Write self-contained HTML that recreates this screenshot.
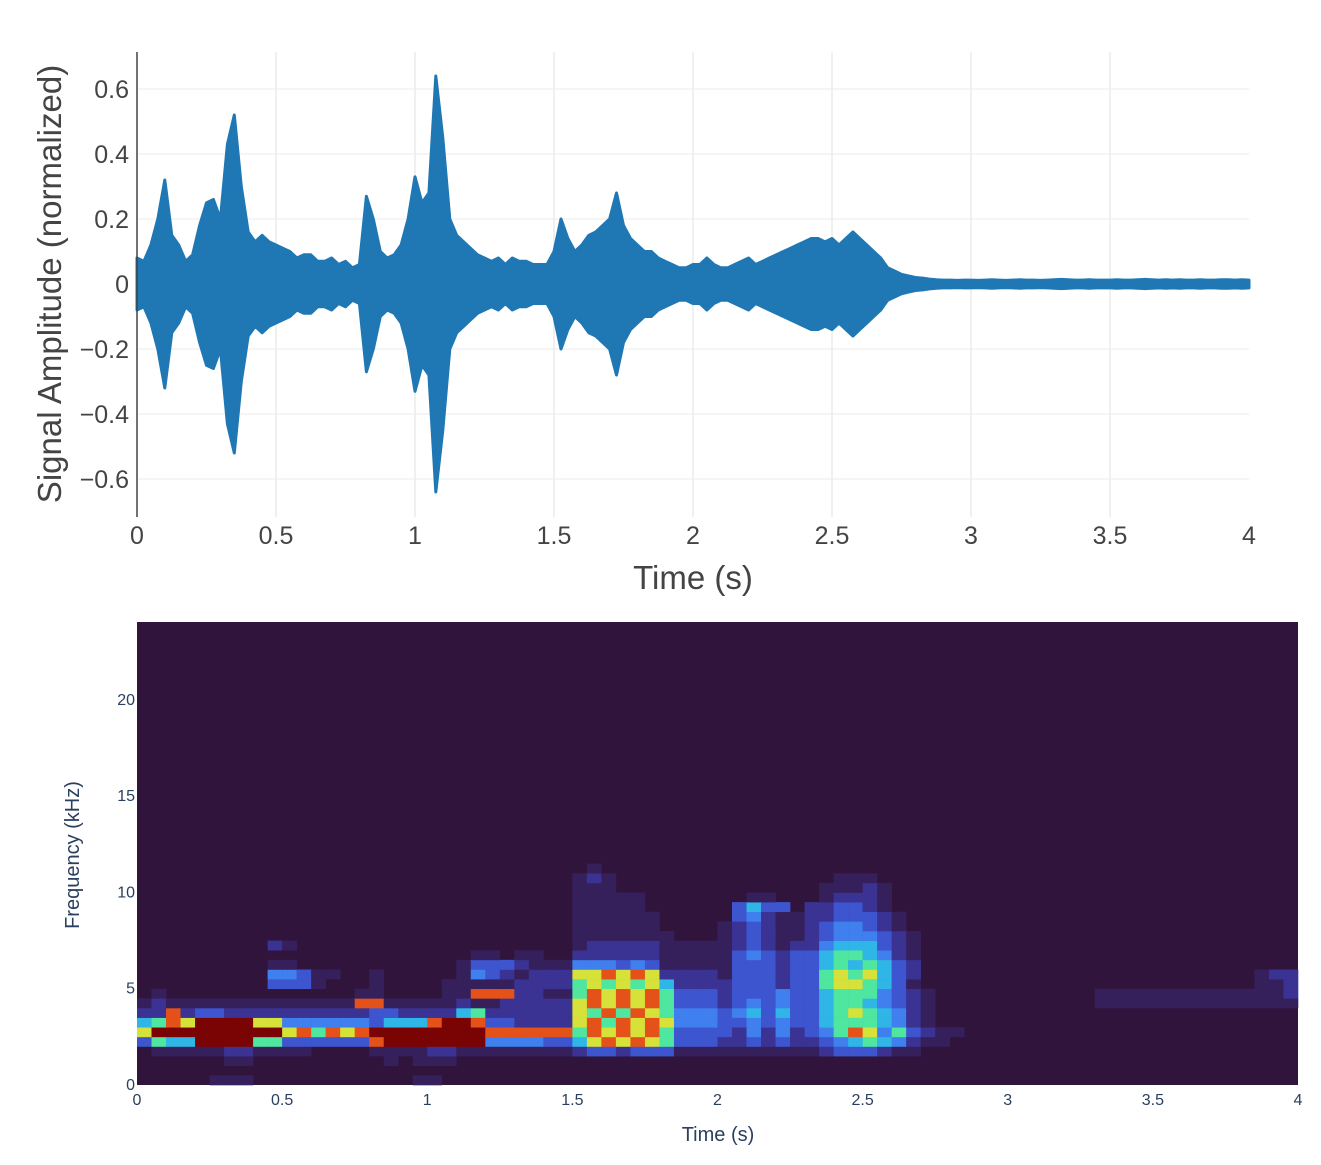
<!DOCTYPE html>
<html><head><meta charset="utf-8">
<style>
html,body{margin:0;padding:0;background:#fff;}
svg{display:block;font-family:"Liberation Sans",Arial,sans-serif;}
</style></head>
<body>
<svg id="root" width="1321" height="1165" viewBox="0 0 1321 1165">
  <g id="wave"></g>
  <g id="spec"></g>
</svg>
<script>
// ---------- waveform data ----------
const waveStep = 0.025; // seconds between envelope samples
const waveEnvelope = [0.08,0.07,0.12,0.2,0.32,0.15,0.12,0.07,0.09,0.18,0.25,0.26,0.2,0.43,0.52,0.3,0.16,0.13,0.15,0.13,
0.12,0.11,0.1,0.08,0.09,0.09,0.07,0.07,0.08,0.06,0.07,0.05,0.06,0.27,0.2,0.1,0.08,0.09,0.12,0.2,
0.33,0.25,0.28,0.64,0.45,0.2,0.15,0.13,0.11,0.09,0.08,0.07,0.08,0.06,0.08,0.07,0.07,0.06,0.06,0.06,
0.1,0.2,0.14,0.1,0.12,0.15,0.16,0.18,0.2,0.28,0.18,0.14,0.12,0.1,0.1,0.08,0.07,0.06,0.05,0.05,
0.06,0.06,0.08,0.06,0.05,0.05,0.06,0.07,0.08,0.06,0.07,0.08,0.09,0.1,0.11,0.12,0.13,0.14,0.14,0.13,
0.14,0.12,0.14,0.16,0.14,0.12,0.1,0.08,0.05,0.04,0.03,0.025,0.02,0.018,0.015,0.013,0.012,0.012,0.011,0.012,
0.012,0.011,0.012,0.013,0.012,0.011,0.012,0.013,0.012,0.012,0.011,0.012,0.013,0.014,0.013,0.012,0.012,0.013,0.012,0.012,
0.012,0.013,0.012,0.012,0.013,0.014,0.013,0.012,0.013,0.012,0.013,0.012,0.012,0.013,0.012,0.012,0.013,0.013,0.012,0.013,0.012];
const waveXTicks = [0,0.5,1,1.5,2,2.5,3,3.5,4];
const waveXTickLabels = ["0","0.5","1","1.5","2","2.5","3","3.5","4"];
const waveYTicks = [-0.6,-0.4,-0.2,0,0.2,0.4,0.6];
const waveYTickLabels = ["\u22120.6","\u22120.4","\u22120.2","0","0.2","0.4","0.6"];

// ---------- spectrogram data ----------
const specTimeStep = 0.05;   // 80 time bins
const specFreqStep = 0.5;    // kHz per row
const specYTicks = [0,5,10,15,20];
const specXTicks = [0,0.5,1,1.5,2,2.5,3,3.5,4];
const specXTickLabels = ["0","0.5","1","1.5","2","2.5","3","3.5","4"];
const Z = "0000000000";
// rows from 0 kHz upward, intensity 0-9
const specRows = [
 ["0000011100","0000000001","1000000000",Z,Z,Z,Z,Z],
 [Z,Z,Z,Z,Z,Z,Z,Z],
 ["0000001100","0000000101","1100000000",Z,Z,Z,Z,Z],
 ["0111112211","1100001111","2211111111","2332333111","1111111233","3211000000",Z,Z],
 ["3655999966","3333338999","9999444433","5787876333","2232322345","6542110000",Z,Z],
 ["7999999999","7868789999","9999888888","6878786333","3242423468","7463211000",Z,Z],
 ["5687999977","4444443555","8998332222","7868787444","3343433566","6542100000",Z,Z],
 ["2282332222","2222223322","2256222222","7686876444","3453533567","6542100000",Z,Z],
 ["1211111111","1111188111","1121122222","7878786333","2343433566","5432100000","0000001111","1111111111"],
 ["0100000000","0000011000","0118882211","6878786333","2333433566","6432100000","0000001111","1111111112"],
 ["0000000003","3310001000","0111112222","6767675222","2333233677","6531000000",Z,"0000000112"],
 ["0000000004","4311001000","0014321222","7787872222","1333233676","7532000000",Z,"0000000122"],
 ["0000000001","1000000000","0013332111","4443431111","1333233565","6532000000",Z,Z],
 [Z,Z,"0001101100","2222221111","1343233566","5421000000",Z,Z],
 ["0000000002","1000000000",Z,"1222221111","1232122455","5321000000",Z,Z],
 [Z,Z,Z,"1111111000","1232112344","4321000000",Z,Z],
 [Z,Z,Z,"1111110000","1232112344","3210000000",Z,Z],
 [Z,Z,Z,"1111110000","0342112233","3210000000",Z,Z],
 [Z,Z,Z,"1111100000","0353302233","2100000000",Z,Z],
 [Z,Z,Z,"1111100000","0011000122","2100000000",Z,Z],
 [Z,Z,Z,"1110000000","0000000111","2100000000",Z,Z],
 [Z,Z,Z,"1210000000","0000000011","1000000000",Z,Z],
 [Z,Z,Z,"0100000000",Z,Z,Z,Z]
];
const specColors = ["#30143b","#36205c","#3a3394","#3d55cf","#3f7fee","#2fb6e6","#4fe6a0","#d6e23a","#e4521a","#7a0403"];

const NS = "http://www.w3.org/2000/svg";
function mk(tag, attrs, parent){const e=document.createElementNS(NS,tag);for(const k in attrs)e.setAttribute(k,attrs[k]);parent.appendChild(e);return e;}

// ---------- waveform chart ----------
const W = document.getElementById('wave');
const wx = t => 137 + t*(1249-137)/4;
const wy = v => 284 - v*325;
waveYTicks.forEach((v,i)=>{
  const g = mk('line',{x1:137,x2:1249,y1:wy(v),y2:wy(v),stroke:'#ebebeb','stroke-width':1},W);
  
  
  const t = mk('text',{x:129,y:wy(v)+9,'text-anchor':'end','font-size':25,fill:'#444'},W);
  t.textContent = waveYTickLabels[i];
  
  
});
waveXTicks.forEach((v,i)=>{
  if(v>0 && v<4){
    const g = mk('line',{x1:wx(v),x2:wx(v),y1:52,y2:517,stroke:'#ebebeb','stroke-width':1.5},W);
    
    
  }
  const t = mk('text',{x:wx(v),y:544,'text-anchor':'middle','font-size':25,fill:'#444'},W);
  t.textContent = waveXTickLabels[i];
  
  
});
const topPts = [], botPts = [];
waveEnvelope.forEach((a,i)=>{const t=i*waveStep; topPts.push(wx(t).toFixed(1)+','+wy(a).toFixed(1)); botPts.unshift(wx(t).toFixed(1)+','+wy(-a).toFixed(1));});
const wp = mk('polygon',{points:topPts.concat(botPts).join(' '),fill:'#1f77b4',stroke:'#1f77b4','stroke-width':3,'stroke-linejoin':'round'},W);


const yl = mk('line',{x1:137,x2:137,y1:52,y2:517,stroke:'#444','stroke-width':1.5},W);


const xt = mk('text',{x:693,y:589,'text-anchor':'middle','font-size':33,fill:'#444'},W);
xt.textContent='Time (s)';


const ytt = mk('text',{x:0,y:0,'text-anchor':'middle','font-size':33,fill:'#444',transform:'translate(61,284) rotate(-90)'},W);
ytt.textContent='Signal Amplitude (normalized)';



// ---------- spectrogram ----------
const S = document.getElementById('spec');
const sx0=137, sx1=1298, sy0=622, sy1=1085;
const sx = t => sx0 + t*(sx1-sx0)/4;
const sy = f => sy1 - f*(sy1-sy0)/24.05;
const bg = mk('rect',{x:sx0,y:sy0,width:sx1-sx0,height:sy1-sy0,fill:specColors[0]},S);


specRows.forEach((groups,r)=>{
  const row = groups.join('');
  for(let c=0;c<row.length;c++){
    const v = +row[c];
    if(!v) continue;
    const t0=c*specTimeStep, f0=r*specFreqStep;
    const cell = mk('rect',{x:sx(t0).toFixed(2),y:sy(f0+specFreqStep).toFixed(2),width:(sx(t0+specTimeStep)-sx(t0)+0.3).toFixed(2),height:(sy(f0)-sy(f0+specFreqStep)+0.3).toFixed(2),fill:specColors[v]},S);
    
    
  }
});
specYTicks.forEach(v=>{
  const t = mk('text',{x:135,y:sy(v)+5,'text-anchor':'end','font-size':16,fill:'#2a3f5f'},S);
  t.textContent = String(v);
  
  
});
specXTicks.forEach((v,i)=>{
  const t = mk('text',{x:sx(v),y:1105,'text-anchor':'middle','font-size':16,fill:'#2a3f5f'},S);
  t.textContent = specXTickLabels[i];
  
  
});
const sxt = mk('text',{x:718,y:1141,'text-anchor':'middle','font-size':20,fill:'#2a3f5f'},S);
sxt.textContent='Time (s)';


const syt = mk('text',{x:0,y:0,'text-anchor':'middle','font-size':20,fill:'#2a3f5f',transform:'translate(79,855) rotate(-90)'},S);
syt.textContent='Frequency (kHz)';


</script>
</body></html>
